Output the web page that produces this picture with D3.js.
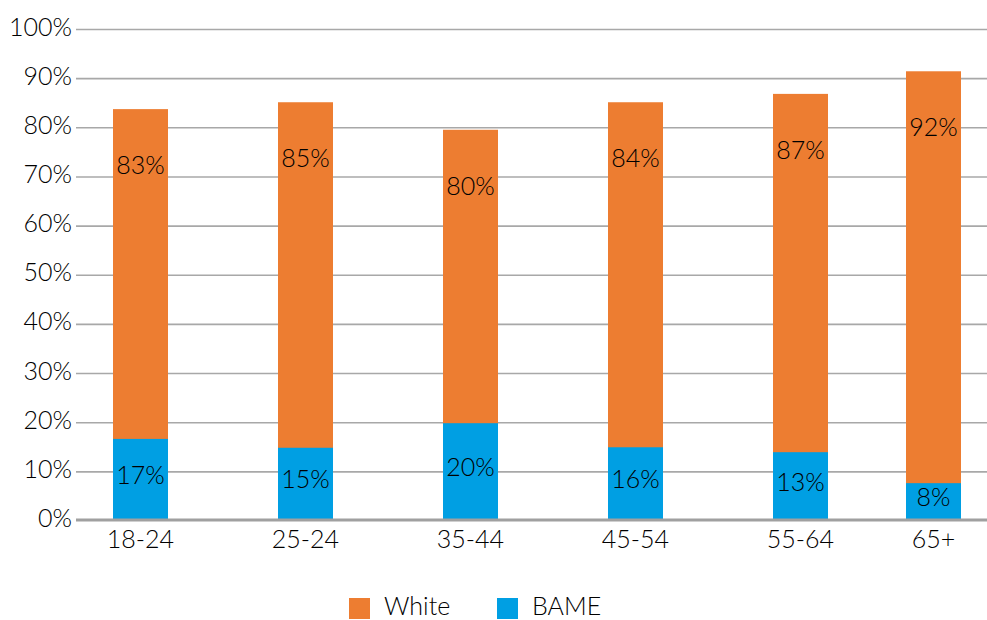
<!DOCTYPE html>
<html><head><meta charset="utf-8">
<script src="https://cdn.jsdelivr.net/npm/d3@7"></script>
<style>
html,body{margin:0;padding:0;background:#fff;}
svg text{font-family:Lato,"Open Sans",sans-serif;font-weight:300;fill:#000;}
</style></head>
<body>
<svg id="chart" width="987" height="620"></svg>
<script>
const categories = ["18-24","25-24","35-44","45-54","55-64","65+"];
const whiteValues = [83.8, 85.2, 79.6, 85.2, 86.9, 91.5];
const bameValues  = [16.7, 14.9, 19.9, 15.0, 14.0, 7.7];
const whiteLabels = ["83%","85%","80%","84%","87%","92%"];
const bameLabels  = ["17%","15%","20%","16%","13%","8%"];
const yTicks = [0,10,20,30,40,50,60,70,80,90,100];
const seriesNames = ["White","BAME"];
const colors = {White:"#ED7D31", BAME:"#009FE3"};

const W = 987, H = 620;
const plotLeft = 76, plotRight = 987;
const y0 = 521, y100 = 29.5;
const barW = 55;
const fontSize = 25;

const svg = d3.select("#chart");
const y = d3.scaleLinear().domain([0,100]).range([y0, y100]);
const x = d3.scaleBand().domain(categories).range([58, 58 + 165*categories.length]);
const cx = d => Math.min(x(d) + x.bandwidth()/2, plotRight - 26 - barW/2);

// gridlines
svg.append("g").selectAll("line").data(yTicks.filter(t => t > 0)).join("line")
  .attr("x1", plotLeft).attr("x2", plotRight)
  .attr("y1", d => y(d)).attr("y2", d => y(d))
  .attr("stroke", "#a8a8a8").attr("stroke-width", 1.6);

// y tick labels
svg.append("g").selectAll("text").data(yTicks).join("text")
  .attr("x", 72).attr("y", d => y(d) - 4)
  .attr("text-anchor", "end").attr("dominant-baseline", "central")
  .attr("font-size", fontSize)
  .text(d => d + "%");

// bars (overlapping)
const data = categories.map((c,i) => ({c, w: whiteValues[i], b: bameValues[i], wl: whiteLabels[i], bl: bameLabels[i]}));
svg.append("g").selectAll("rect").data(data).join("rect")
  .attr("x", d => cx(d.c) - barW/2).attr("width", barW)
  .attr("y", d => y(d.w)).attr("height", d => y(0) - y(d.w))
  .attr("fill", colors.White);
svg.append("g").selectAll("rect").data(data).join("rect")
  .attr("x", d => cx(d.c) - barW/2).attr("width", barW)
  .attr("y", d => y(d.b)).attr("height", d => y(0) - y(d.b))
  .attr("fill", colors.BAME);

// baseline
svg.append("line").attr("x1", plotLeft).attr("x2", plotRight)
  .attr("y1", y(0)-1).attr("y2", y(0)-1)
  .attr("stroke", "#a0a0a0").attr("stroke-width", 3);

// labels
svg.append("g").selectAll("text").data(data).join("text")
  .attr("x", d => cx(d.c)).attr("y", d => y(d.w) + 55)
  .attr("text-anchor", "middle").attr("dominant-baseline", "central")
  .attr("font-size", fontSize).text(d => d.wl);
svg.append("g").selectAll("text").data(data).join("text")
  .attr("x", d => cx(d.c)).attr("y", d => (y(d.b) + y(0))/2 - 6)
  .attr("text-anchor", "middle").attr("dominant-baseline", "central")
  .attr("font-size", fontSize).text(d => d.bl);

// x labels
svg.append("g").selectAll("text").data(categories).join("text")
  .attr("x", d => cx(d)).attr("y", 538)
  .attr("text-anchor", "middle").attr("dominant-baseline", "central")
  .attr("font-size", fontSize).text(d => d);

// legend
const legendX = [349, 497];
const lg = svg.append("g").selectAll("g").data(seriesNames).join("g")
  .attr("transform", (d,i) => `translate(${legendX[i]},598)`);
lg.append("rect").attr("width", 21).attr("height", 21).attr("fill", d => colors[d]);
lg.append("text").attr("x", 35).attr("y", 7)
  .attr("dominant-baseline", "central").attr("font-size", fontSize).text(d => d);
</script>
</body></html>
